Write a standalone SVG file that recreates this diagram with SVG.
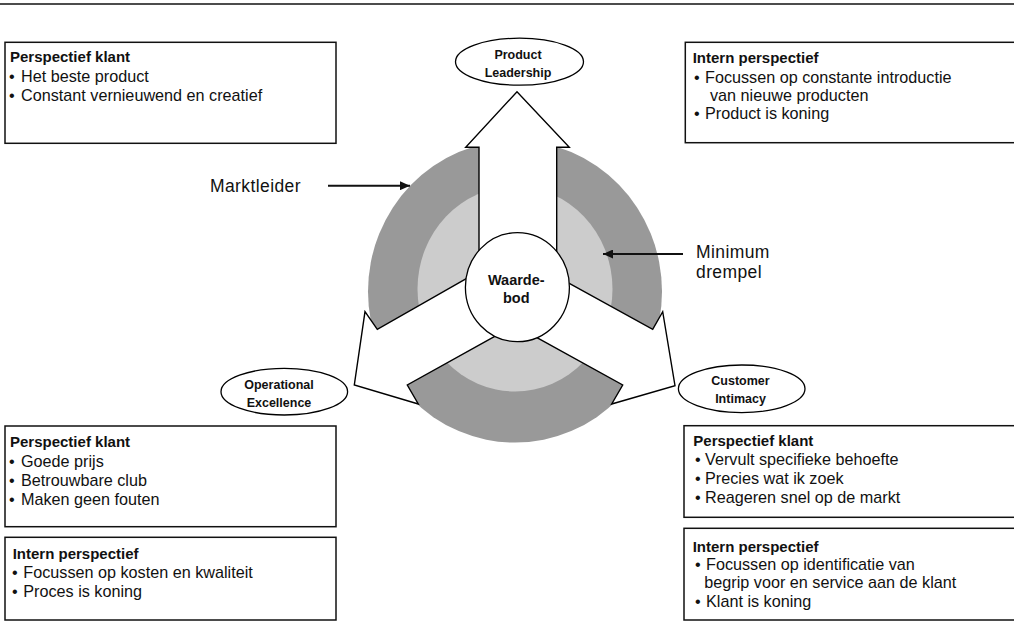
<svg xmlns="http://www.w3.org/2000/svg" width="1014" height="621" viewBox="0 0 1014 621">
<defs>
<style>
text{font-family:"Liberation Sans",Arial,sans-serif;fill:#111}
.body{font-size:16.2px}
.ttl{font-size:15px;font-weight:bold}
.lbl{font-size:17.5px;letter-spacing:0.4px}
.nd{font-size:12.5px;font-weight:bold;text-anchor:middle}
.ctr{font-size:14.5px;font-weight:bold;text-anchor:middle}
.box{fill:#fff;stroke:#111;stroke-width:1.5}
.arr{fill:#fff;stroke:#000;stroke-width:1.4;stroke-linejoin:miter}
.ell{fill:#fff;stroke:#000;stroke-width:1.3}
.conn{stroke:#111;stroke-width:2;fill:none}
</style>
<marker id="ah" markerWidth="10" markerHeight="9" refX="10" refY="4.5" orient="auto" markerUnits="userSpaceOnUse">
<path d="M0,0 L10,4.5 L0,9 Z" fill="#111"/>
</marker>
</defs>
<rect width="1014" height="621" fill="#fff"/>
<line x1="0" y1="4" x2="1014" y2="4" stroke="#111" stroke-width="1.5"/>

<g id="ring">
<ellipse cx="515" cy="291.6" rx="147" ry="151" fill="#999"/>
<ellipse cx="515" cy="289" rx="97.5" ry="102.5" fill="#ccc"/>
</g>

<g id="arrow-product">
<polygon class="arr" points="479,290 479,147.3 465.7,147.3 517,91.7 569.3,147.3 556.7,147.3 556.7,290"/>
</g>
<g id="arrow-operational">
<polygon class="arr" points="484,268.3 466.7,278.3 377.3,329.3 365,311.7 354.3,385 418.3,404 407.3,385 494.3,336.7 511.6,326.7"/>
</g>
<g id="arrow-customer">
<polygon class="arr" points="551.8,273.6 569.3,283.3 652.7,329.3 662.7,311.7 675,385.7 611.7,404 622.7,385 538.3,338.3 520.8,328.6"/>
</g>

<g id="waardebod">
<ellipse class="ell" cx="517.4" cy="287.2" rx="52" ry="54.5"/>
<text class="ctr" x="516.3" y="285">Waarde-</text>
<text class="ctr" x="516.3" y="303.3">bod</text>
</g>

<g id="product-leadership">
<ellipse class="ell" cx="519.5" cy="61.7" rx="64" ry="23.5"/>
<text class="nd" x="518" y="59.3">Product</text>
<text class="nd" x="518" y="76.7">Leadership</text>
</g>
<g id="operational-excellence">
<ellipse class="ell" cx="284.3" cy="391.7" rx="63.3" ry="23.3"/>
<text class="nd" x="279" y="389">Operational</text>
<text class="nd" x="279" y="406.7">Excellence</text>
</g>
<g id="customer-intimacy">
<ellipse class="ell" cx="741.7" cy="388.8" rx="63.3" ry="23.8"/>
<text class="nd" x="740.5" y="385">Customer</text>
<text class="nd" x="740.5" y="403.3">Intimacy</text>
</g>

<g id="connectors">
<line class="conn" x1="328" y1="185.7" x2="410" y2="185.7" marker-end="url(#ah)"/>
<line class="conn" x1="683" y1="254" x2="603" y2="254" marker-end="url(#ah)"/>
</g>

<g id="marktleider">
<text class="lbl" x="210" y="191.7">Marktleider</text>
</g>
<g id="minimum-drempel">
<text class="lbl" x="696" y="258.3">Minimum</text>
<text class="lbl" x="696" y="277.7">drempel</text>
</g>

<g id="box-pl-klant">
<rect class="box" x="5" y="42.3" width="331" height="101"/>
<text class="ttl" x="10" y="62.3">Perspectief klant</text>
<text class="body" y="82"><tspan x="9">•</tspan><tspan x="21">Het beste product</tspan></text>
<text class="body" y="101"><tspan x="9">•</tspan><tspan x="21">Constant vernieuwend en creatief</tspan></text>
</g>

<g id="box-pl-intern">
<rect class="box" x="685.3" y="42.3" width="340" height="100.4"/>
<text class="ttl" x="692.7" y="63.3">Intern perspectief</text>
<text class="body" y="82.7"><tspan x="694">•</tspan><tspan x="705">Focussen op constante introductie</tspan></text>
<text class="body" x="710" y="100.9">van nieuwe producten</text>
<text class="body" y="119.3"><tspan x="694">•</tspan><tspan x="705">Product is koning</tspan></text>
</g>

<g id="box-oe-klant">
<rect class="box" x="5" y="426" width="331" height="100.7"/>
<text class="ttl" x="10" y="447.3">Perspectief klant</text>
<text class="body" y="466.7"><tspan x="9">•</tspan><tspan x="21">Goede prijs</tspan></text>
<text class="body" y="485.7"><tspan x="9">•</tspan><tspan x="21">Betrouwbare club</tspan></text>
<text class="body" y="504.5"><tspan x="9">•</tspan><tspan x="21">Maken geen fouten</tspan></text>
</g>

<g id="box-oe-intern">
<rect class="box" x="5" y="537.3" width="331" height="82.7"/>
<text class="ttl" x="12.7" y="559.3">Intern perspectief</text>
<text class="body" y="578.3"><tspan x="12">•</tspan><tspan x="23.3">Focussen op kosten en kwaliteit</tspan></text>
<text class="body" y="597.3"><tspan x="12">•</tspan><tspan x="23.3">Proces is koning</tspan></text>
</g>

<g id="box-ci-klant">
<rect class="box" x="684" y="425.7" width="340" height="91.6"/>
<text class="ttl" x="693.3" y="446">Perspectief klant</text>
<text class="body" y="465"><tspan x="695">•</tspan><tspan x="705">Vervult specifieke behoefte</tspan></text>
<text class="body" y="484"><tspan x="695">•</tspan><tspan x="705">Precies wat ik zoek</tspan></text>
<text class="body" y="502.7"><tspan x="695">•</tspan><tspan x="705">Reageren snel op de markt</tspan></text>
</g>

<g id="box-ci-intern">
<rect class="box" x="684" y="528.3" width="340" height="91.7"/>
<text class="ttl" x="692.7" y="551.7">Intern perspectief</text>
<text class="body" y="570"><tspan x="695">•</tspan><tspan x="706">Focussen op identificatie van</tspan></text>
<text class="body" x="704.3" y="588.3">begrip voor en service aan de klant</text>
<text class="body" y="606.7"><tspan x="695">•</tspan><tspan x="706">Klant is koning</tspan></text>
</g>
</svg>
